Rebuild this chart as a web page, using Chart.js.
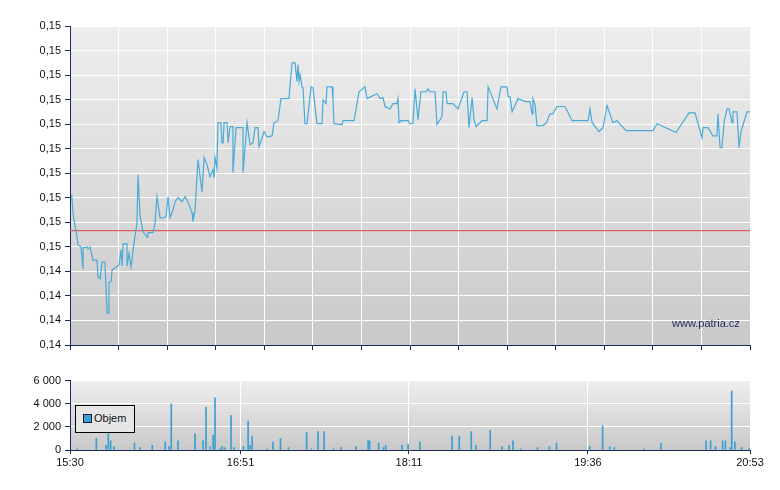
<!DOCTYPE html>
<html><head><meta charset="utf-8">
<script src="https://cdn.jsdelivr.net/npm/chart.js@4"></script>
<style>
body{margin:0;background:#fff;width:780px;height:490px;position:relative;overflow:hidden;font-family:"Liberation Sans",sans-serif}
#c1{position:absolute;left:0;top:0}
#c2{position:absolute;left:0;top:370px}
#leg{position:absolute;left:75px;top:405px;width:60px;height:28px;border:1px solid #000;background:#e6e6e6;font-size:11px;color:#111;box-sizing:border-box}
#leg span.sw{position:absolute;left:7px;top:8px;width:7px;height:7px;background:#3aa0d0;border:1px solid #114}
#leg span.t{position:absolute;left:18px;top:6px}
#wm{position:absolute;left:672px;top:317px;font-size:11px;color:#1a2a5a}
</style></head><body>
<canvas id="c1" width="780" height="360"></canvas>
<canvas id="c2" width="780" height="100"></canvas>
<div id="leg"><span class="sw"></span><span class="t">Objem</span></div>
<div id="wm">www.patria.cz</div>
<script>
// minutes after 15:30
const priceMinutes=[0.8,1.4,3.3,3.8,5.2,6.2,6.2,8.1,8.6,9.5,10.9,12.8,13.3,14.3,15.2,16.6,17.6,18.5,18.5,19.5,20,21.4,23.3,24.2,24.7,25.2,27.1,27.1,28,29,30.4,31.8,32.3,33.3,34.7,36.6,37,39.4,40.4,41.3,42.8,44.2,45.6,46.6,47.5,48.9,49.9,51.3,53.2,54.6,56,58,58.4,59.4,60.8,62.7,63.7,65.1,66.5,67.9,68.4,68.9,69.8,70.3,71.7,72.2,72.7,73.2,74.6,75.1,76,77.4,77.4,78.9,82.2,82.2,84.1,85.5,86.9,87.9,89.3,89.8,92.2,93.6,96,96.9,98.8,100.2,104,105.5,106.9,107.8,108.3,108.8,109.3,110.2,110.7,111.6,112.6,114.5,115.4,117.3,119.7,120.2,121.6,122.1,124.5,124.9,125.4,129.2,129.7,134.9,137.3,140.1,141.1,145.8,147.3,148.7,149.6,152,153.4,155.3,155.8,156.3,157.2,160.6,161.5,162.9,163.9,165.3,166.7,169.1,170.1,171,173.4,174.3,176.7,177.2,178.6,179.1,181.9,184.3,187.2,188.6,189.5,191,191.9,192.9,195.7,198.1,198.6,202.8,204.7,207.6,208.1,209,210,212.8,216.1,218.5,219.5,219.9,220.9,221.8,224.2,226.1,228,229.4,231.3,235.1,238.5,246.1,247,248,251.3,253.2,255.1,257.9,259.8,264.1,276.9,278.8,287.9,294,296.9,300.2,300.7,303.1,305.4,307.3,307.8,308.8,309.7,310.7,312.1,313,314.5,314.9,316.8,317.8,318.7,321.6,323];
const priceValues=[0.14706,0.14669,0.14620,0.14604,0.14600,0.14555,0.14598,0.14600,0.14596,0.14600,0.14573,0.14573,0.14539,0.14535,0.14569,0.14569,0.14465,0.14465,0.14527,0.14529,0.14553,0.14557,0.14563,0.14594,0.14561,0.14606,0.14606,0.14561,0.14586,0.14559,0.14608,0.14649,0.14747,0.14661,0.14631,0.14620,0.14629,0.14629,0.14649,0.14702,0.14659,0.14659,0.14661,0.14702,0.14659,0.14675,0.14692,0.14700,0.14692,0.14702,0.14692,0.14669,0.14651,0.14675,0.14778,0.14712,0.14782,0.14767,0.14743,0.14757,0.14741,0.14782,0.14761,0.14853,0.14853,0.14812,0.14812,0.14853,0.14853,0.14812,0.14845,0.14845,0.14751,0.14843,0.14843,0.14751,0.14853,0.14808,0.14812,0.14843,0.14843,0.14804,0.14835,0.14824,0.14826,0.14853,0.14857,0.14902,0.14902,0.14975,0.14975,0.14937,0.14971,0.14937,0.14951,0.14926,0.14924,0.14851,0.14851,0.14926,0.14924,0.14851,0.14851,0.14900,0.14892,0.14926,0.14926,0.14900,0.14851,0.14849,0.14857,0.14857,0.14916,0.14926,0.14902,0.14912,0.14902,0.14904,0.14886,0.14881,0.14892,0.14892,0.14902,0.14853,0.14857,0.14857,0.14851,0.14851,0.14922,0.14859,0.14916,0.14916,0.14922,0.14916,0.14916,0.14849,0.14865,0.14916,0.14916,0.14892,0.14892,0.14881,0.14916,0.14916,0.14843,0.14904,0.14859,0.14845,0.14857,0.14857,0.14926,0.14881,0.14926,0.14926,0.14906,0.14906,0.14875,0.14902,0.14896,0.14896,0.14871,0.14902,0.14890,0.14847,0.14847,0.14851,0.14871,0.14871,0.14886,0.14886,0.14857,0.14857,0.14881,0.14853,0.14835,0.14843,0.14888,0.14853,0.14857,0.14837,0.14837,0.14851,0.14833,0.14873,0.14873,0.14822,0.14843,0.14843,0.14826,0.14826,0.14871,0.14802,0.14802,0.14855,0.14881,0.14881,0.14853,0.14875,0.14875,0.14802,0.14835,0.14875,0.14875];
const referencePrice=0.14633;
const yTickValues=[0.1440,0.1445,0.1450,0.1455,0.1460,0.1465,0.1470,0.1475,0.1480,0.1485,0.1490,0.1495,0.1500,0.1505];
const yTickLabels=["0,14","0,14","0,14","0,14","0,15","0,15","0,15","0,15","0,15","0,15","0,15","0,15","0,15","0,15"];
const volumeMinutes=[3.5,12.5,17.1,18.2,19.3,20.9,30.6,33.3,39.1,45.2,47,48.1,51.3,59.4,63.2,64.6,66.6,68,68.9,71.2,72.2,73.4,76.5,77.9,82.4,84.6,85.5,86.5,93.7,96.4,100,103.8,112.4,114.6,117.8,120.7,125.2,128.8,135.8,141.6,142.3,146.6,148.9,150,157.7,160.6,166.2,181.5,184.9,190.6,192.8,199.6,205.2,208.6,210.4,214.2,222.1,227.7,231.1,246.9,253,256.4,258.6,272.8,280.7,302.1,304.3,306.6,310,311.3,313.6,314.3,315.8,319,322.5];
const volumeValues=[100,1000,400,1800,800,300,600,200,400,700,300,4000,800,1400,800,3700,300,1300,4500,100,300,200,3000,200,300,2500,400,1200,100,700,1000,200,1500,100,1600,1600,100,200,300,800,800,600,200,400,400,500,700,1200,1200,1600,400,1700,300,400,800,100,200,300,600,300,2100,300,200,100,600,800,800,300,800,800,200,5100,700,200,100];
const xTickMinutes=[0,81,161,246,323];
const xTickLabels=["15:30","16:51","18:11","19:36","20:53"];
const volTicks=[0,2000,4000,6000];
const volTickLabels=["0","2 000","4 000","6 000"];

const AX='#1a2a5a';
const bgPlugin={id:'bg',beforeDraw(c){const a=c.chartArea,ctx=c.ctx;const g=ctx.createLinearGradient(0,a.top,0,a.bottom);g.addColorStop(0,'#eeeeee');g.addColorStop(1,'#c9c9c9');ctx.save();ctx.fillStyle=g;ctx.fillRect(a.left,a.top,a.right-a.left,a.bottom-a.top);ctx.restore();}};
Chart.defaults.font.family='"Liberation Sans",sans-serif';
Chart.defaults.font.size=11;
Chart.defaults.color='#111';
Chart.defaults.animation=false;

new Chart(document.getElementById('c1'),{
 type:'line',
 data:{datasets:[
  {data:priceMinutes.map((m,i)=>({x:m,y:priceValues[i]})),borderColor:'#4aaad8',borderWidth:1.2,pointRadius:0,tension:0},
  {data:[{x:0,y:referencePrice},{x:323,y:referencePrice}],borderColor:'#e06060',borderWidth:1.2,pointRadius:0}
 ]},
 options:{responsive:false,plugins:{legend:{display:false},tooltip:{enabled:false}},
  layout:{padding:{top:26,right:30,left:0,bottom:0}},
  scales:{
   x:{type:'linear',min:0,max:323,afterBuildTicks(s){s.ticks=Array.from({length:15},(_,i)=>({value:i*323/14}));},
      afterFit(s){s.height=15;},ticks:{display:false},grid:{color:'#fff',lineWidth:1,tickLength:5,tickColor:AX},border:{color:AX,width:1}},
   y:{min:0.1440,max:0.1505,afterBuildTicks(s){s.ticks=yTickValues.map(v=>({value:v}));},afterFit(s){s.width=70;},
      ticks:{callback:(v,i)=>yTickLabels[i],color:'#111',padding:4},grid:{color:'#fff',lineWidth:1,tickLength:5,tickColor:AX},border:{color:AX,width:1}}
  }},
 plugins:[bgPlugin]
});

new Chart(document.getElementById('c2'),{
 type:'bar',
 data:{datasets:[{data:volumeMinutes.map((m,i)=>({x:m,y:volumeValues[i]})),backgroundColor:'#3aa0d0',barThickness:1}]},
 options:{responsive:false,plugins:{legend:{display:false},tooltip:{enabled:false}},
  layout:{padding:{top:10,right:30,left:0,bottom:0}},
  scales:{
   x:{type:'linear',min:0,max:323,offset:false,afterBuildTicks(s){s.ticks=xTickMinutes.map(v=>({value:v}));},afterFit(s){s.height=20;},
      ticks:{callback:(v,i)=>xTickLabels[i],color:'#111',padding:2,maxRotation:0,autoSkip:false},grid:{color:'#fff',lineWidth:1,tickLength:4,tickColor:AX,offset:false},border:{color:AX,width:1}},
   y:{min:0,max:6000,afterBuildTicks(s){s.ticks=volTicks.map(v=>({value:v}));},afterFit(s){s.width=70;},
      ticks:{callback:(v,i)=>volTickLabels[i],color:'#111',padding:4},grid:{color:'#fff',lineWidth:1,tickLength:5,tickColor:AX},border:{color:AX,width:1}}
  }},
 plugins:[bgPlugin]
});
</script></body></html>
